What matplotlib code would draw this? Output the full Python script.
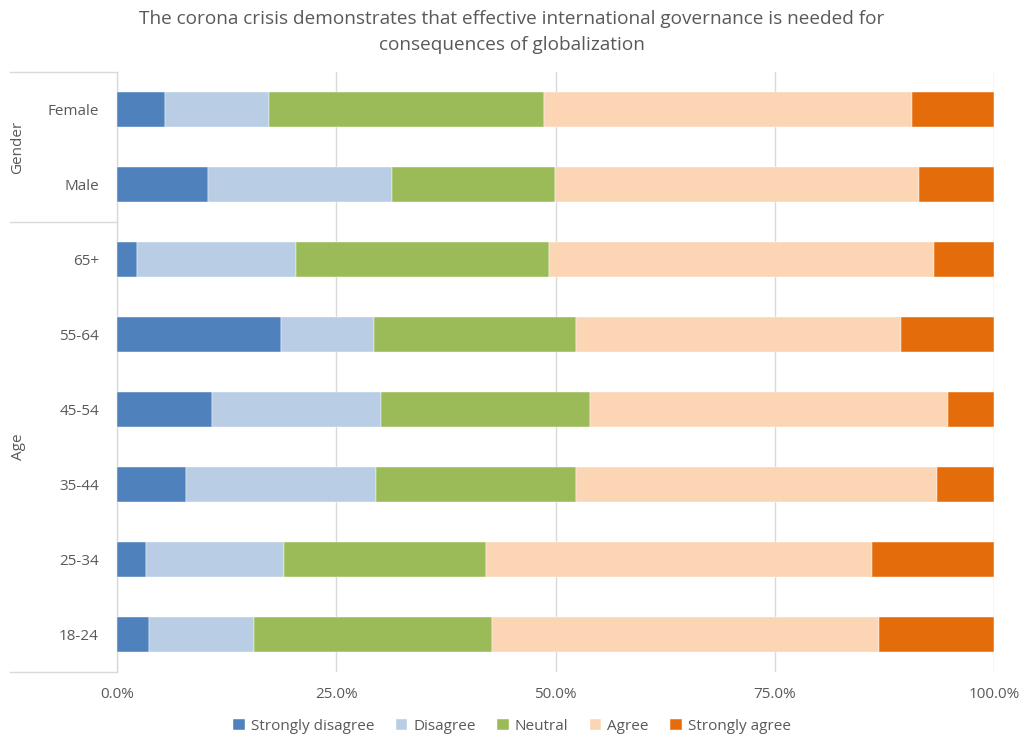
import matplotlib
matplotlib.use("Agg")
import matplotlib.pyplot as plt
from matplotlib.lines import Line2D
import numpy as np

plt.rcParams['font.family'] = ['Open Sans', 'DejaVu Sans']

categories = ["Female", "Male", "65+", "55-64", "45-54", "35-44", "25-34", "18-24"]
groups = ["Gender", "Age"]
group_sizes = [2, 6]
series_names = ["Strongly disagree", "Disagree", "Neutral", "Agree", "Strongly agree"]
strongly_disagree = [5.45, 10.4, 2.3, 18.7, 10.8, 7.9, 3.3, 3.6]
disagree = [11.85, 21.0, 18.1, 10.6, 19.3, 21.6, 15.7, 12.0]
neutral = [31.4, 18.55, 28.9, 23.0, 23.8, 22.8, 23.1, 27.2]
agree = [42.0, 41.55, 43.9, 37.1, 40.8, 41.2, 43.95, 44.1]
strongly_agree = [9.3, 8.5, 6.8, 10.6, 5.3, 6.5, 13.95, 13.1]
tick_values = [0, 25, 50, 75, 100]
tick_labels = ["0.0%", "25.0%", "50.0%", "75.0%", "100.0%"]
title = ("The corona crisis demonstrates that effective international governance is needed for\n"
         "consequences of globalization")

colors = ["#4F81BD", "#B9CDE5", "#9BBB59", "#FCD5B5", "#E46C0A"]
text_color = "#595959"
grid_color = "#D9D9D9"

W, H = 1024, 737
fig = plt.figure(figsize=(W / 100, H / 100), dpi=100)
left_px, right_px, top_px, bottom_px = 117, 994, 72, 672
ax = fig.add_axes([left_px / W, 1 - bottom_px / H, (right_px - left_px) / W, (bottom_px - top_px) / H])

y = np.arange(len(categories))
series = [strongly_disagree, disagree, neutral, agree, strongly_agree]
left = np.zeros(len(categories))
for name, vals, c in zip(series_names, series, colors):
    vals = np.array(vals)
    ax.barh(y, vals, left=left, height=0.455, color=c, label=name, zorder=3,
            edgecolor='white', linewidth=0.3)
    left += vals

ax.set_xlim(0, 100)
ax.set_ylim(len(categories) - 0.5, -0.5)
ax.set_xticks(tick_values)
ax.set_xticklabels(tick_labels, color=text_color, fontsize=11)
ax.set_yticks(y)
ax.set_yticklabels(categories, color=text_color, fontsize=11)
ax.tick_params(axis='both', length=0)
ax.tick_params(axis='y', pad=13)
ax.tick_params(axis='x', pad=11)
for s in ["top", "right", "bottom"]:
    ax.spines[s].set_visible(False)
ax.spines["left"].set_color(grid_color)
ax.spines["left"].set_linewidth(1.0)
ax.xaxis.grid(True, color=grid_color, linewidth=1.0, zorder=0)
ax.set_axisbelow(True)

# multi-level category axis decorations
x0 = 10 / W
x1 = left_px / W
bounds = [0]
for g in group_sizes:
    bounds.append(bounds[-1] + g)
n = len(categories)
def ypix_to_fig(yp):
    return 1 - yp / H
band = (bottom_px - top_px) / n
for b in bounds:
    yp = top_px + b * band
    fig.add_artist(Line2D([x0, x1], [ypix_to_fig(yp)] * 2, color=grid_color, linewidth=1.0))
for gname, b0, b1 in zip(groups, bounds[:-1], bounds[1:]):
    yc = top_px + (b0 + b1) / 2 * band
    fig.text(18 / W, ypix_to_fig(yc), gname, rotation=90, ha='center', va='center',
             color=text_color, fontsize=11)

fig.text(0.5, 1 - 32 / H, title, ha='center', va='center', color=text_color,
         fontsize=13.7, linespacing=1.5)

fig.legend(loc='center', bbox_to_anchor=(0.5, 1 - 726 / H), ncol=5, frameon=False,
           fontsize=11, handlelength=0.75, handleheight=0.75, handletextpad=0.4,
           columnspacing=1.4, labelcolor=text_color)

fig.savefig("out.png", dpi=100)
